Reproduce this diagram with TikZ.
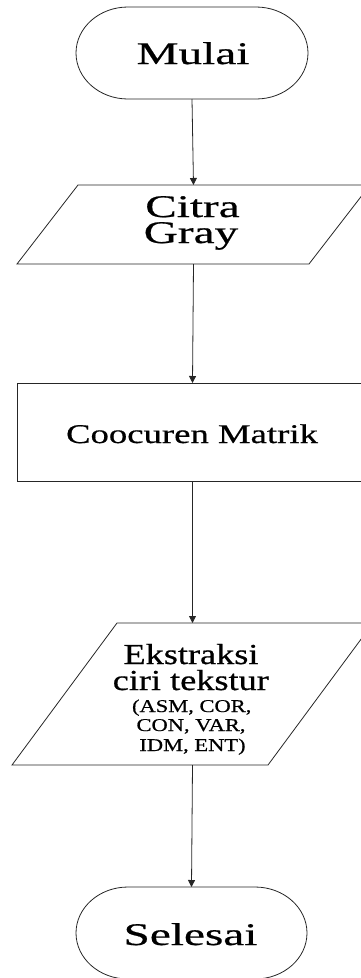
\documentclass[tikz,border=0pt]{standalone}
\usepackage{fontspec}
\setmainfont{Liberation Serif}
\newfontfamily\fA[FakeStretch=1.5,FakeBold=0.6]{Liberation Serif}
\newfontfamily\fB[FakeStretch=1.36,FakeBold=0.6]{Liberation Serif}
\newfontfamily\fC[FakeStretch=1.25,FakeBold=0.6]{Liberation Serif}
\usetikzlibrary{arrows.meta}
\tikzset{
  shapebox/.style={inner sep=0pt, outer sep=0pt},
  outline/.style={line width=0.8pt, draw=black!85},
  big/.style={anchor=base, inner sep=0pt, font=\fA\fontsize{31.5}{31.5}\selectfont},
  mid/.style={anchor=base, inner sep=0pt, font=\fB\fontsize{27}{27}\selectfont},
  ekbig/.style={anchor=base, inner sep=0pt, font=\fC\fontsize{29}{29}\selectfont},
  eksmall/.style={anchor=base, inner sep=0pt, font=\fC\fontsize{18}{18}\selectfont},
  conn/.style={-{Triangle[length=7pt,width=7pt]}, line width=0.8pt, draw=black!85},
}
\begin{document}
\begin{tikzpicture}[x=1pt,y=-1pt]
\useasboundingbox (0,0) rectangle (360,978);

% Mulai
\node[shapebox, minimum width=232pt, minimum height=92pt] (mulai) at (192,53) {};
\draw[outline] ([xshift=52pt]mulai.north west) -- ([xshift=-52pt]mulai.north east)
  arc[start angle=90, end angle=-90, x radius=52pt, y radius=46pt]
  -- ([xshift=52pt]mulai.south west)
  arc[start angle=270, end angle=90, x radius=52pt, y radius=46pt] -- cycle;
\node[big] (tmulai) at (193,64) {Mulai};

% Citra Gray
\node[shapebox, minimum width=353pt, minimum height=79pt] (citra) at (193.5,224.5) {};
\draw[outline] ([xshift=61pt]citra.north west) -- (citra.north east)
  -- ([xshift=-61pt]citra.south east) -- (citra.south west) -- cycle;
\node[big] (tcitra) at (192.5,217) {Citra};
\node[big] (tgray) at (191,243) {Gray};

% Coocuren Matrik
\node[shapebox, draw=black!85, line width=0.8pt, minimum width=351pt, minimum height=98pt] (coo) at (192.5,432) {};
\node[mid] (tcoo) at (192,443) {Coocuren Matrik};

% Ekstraksi
\node[shapebox, minimum width=361pt, minimum height=142pt] (ekstr) at (192.5,694) {};
\draw[outline] ([xshift=105pt]ekstr.north west) -- (ekstr.north east)
  -- ([xshift=-105pt]ekstr.south east) -- (ekstr.south west) -- cycle;
\node[ekbig] (te1) at (191,664) {Ekstraksi};
\node[ekbig] (te2) at (190.8,690) {ciri tekstur};
\node[eksmall] (te3) at (191.7,712) {(ASM, COR,};
\node[eksmall] (te4) at (191,731) {CON, VAR,};
\node[eksmall] (te5) at (192.5,751) {IDM, ENT)};

% Selesai
\node[shapebox, minimum width=231pt, minimum height=92pt] (selesai) at (191.5,933) {};
\draw[outline] ([xshift=52pt]selesai.north west) -- ([xshift=-52pt]selesai.north east)
  arc[start angle=90, end angle=-90, x radius=52pt, y radius=46pt]
  -- ([xshift=52pt]selesai.south west)
  arc[start angle=270, end angle=90, x radius=52pt, y radius=46pt] -- cycle;
\node[big] (tselesai) at (190.5,945) {Selesai};

% connectors
\draw[conn] (mulai.south) -- (citra.north);
\draw[conn] (citra.south) -- (coo.north);
\draw[conn] (coo.south) -- (ekstr.north);
\draw[conn] (ekstr.south) -- (selesai.north);
\end{tikzpicture}
\end{document}
